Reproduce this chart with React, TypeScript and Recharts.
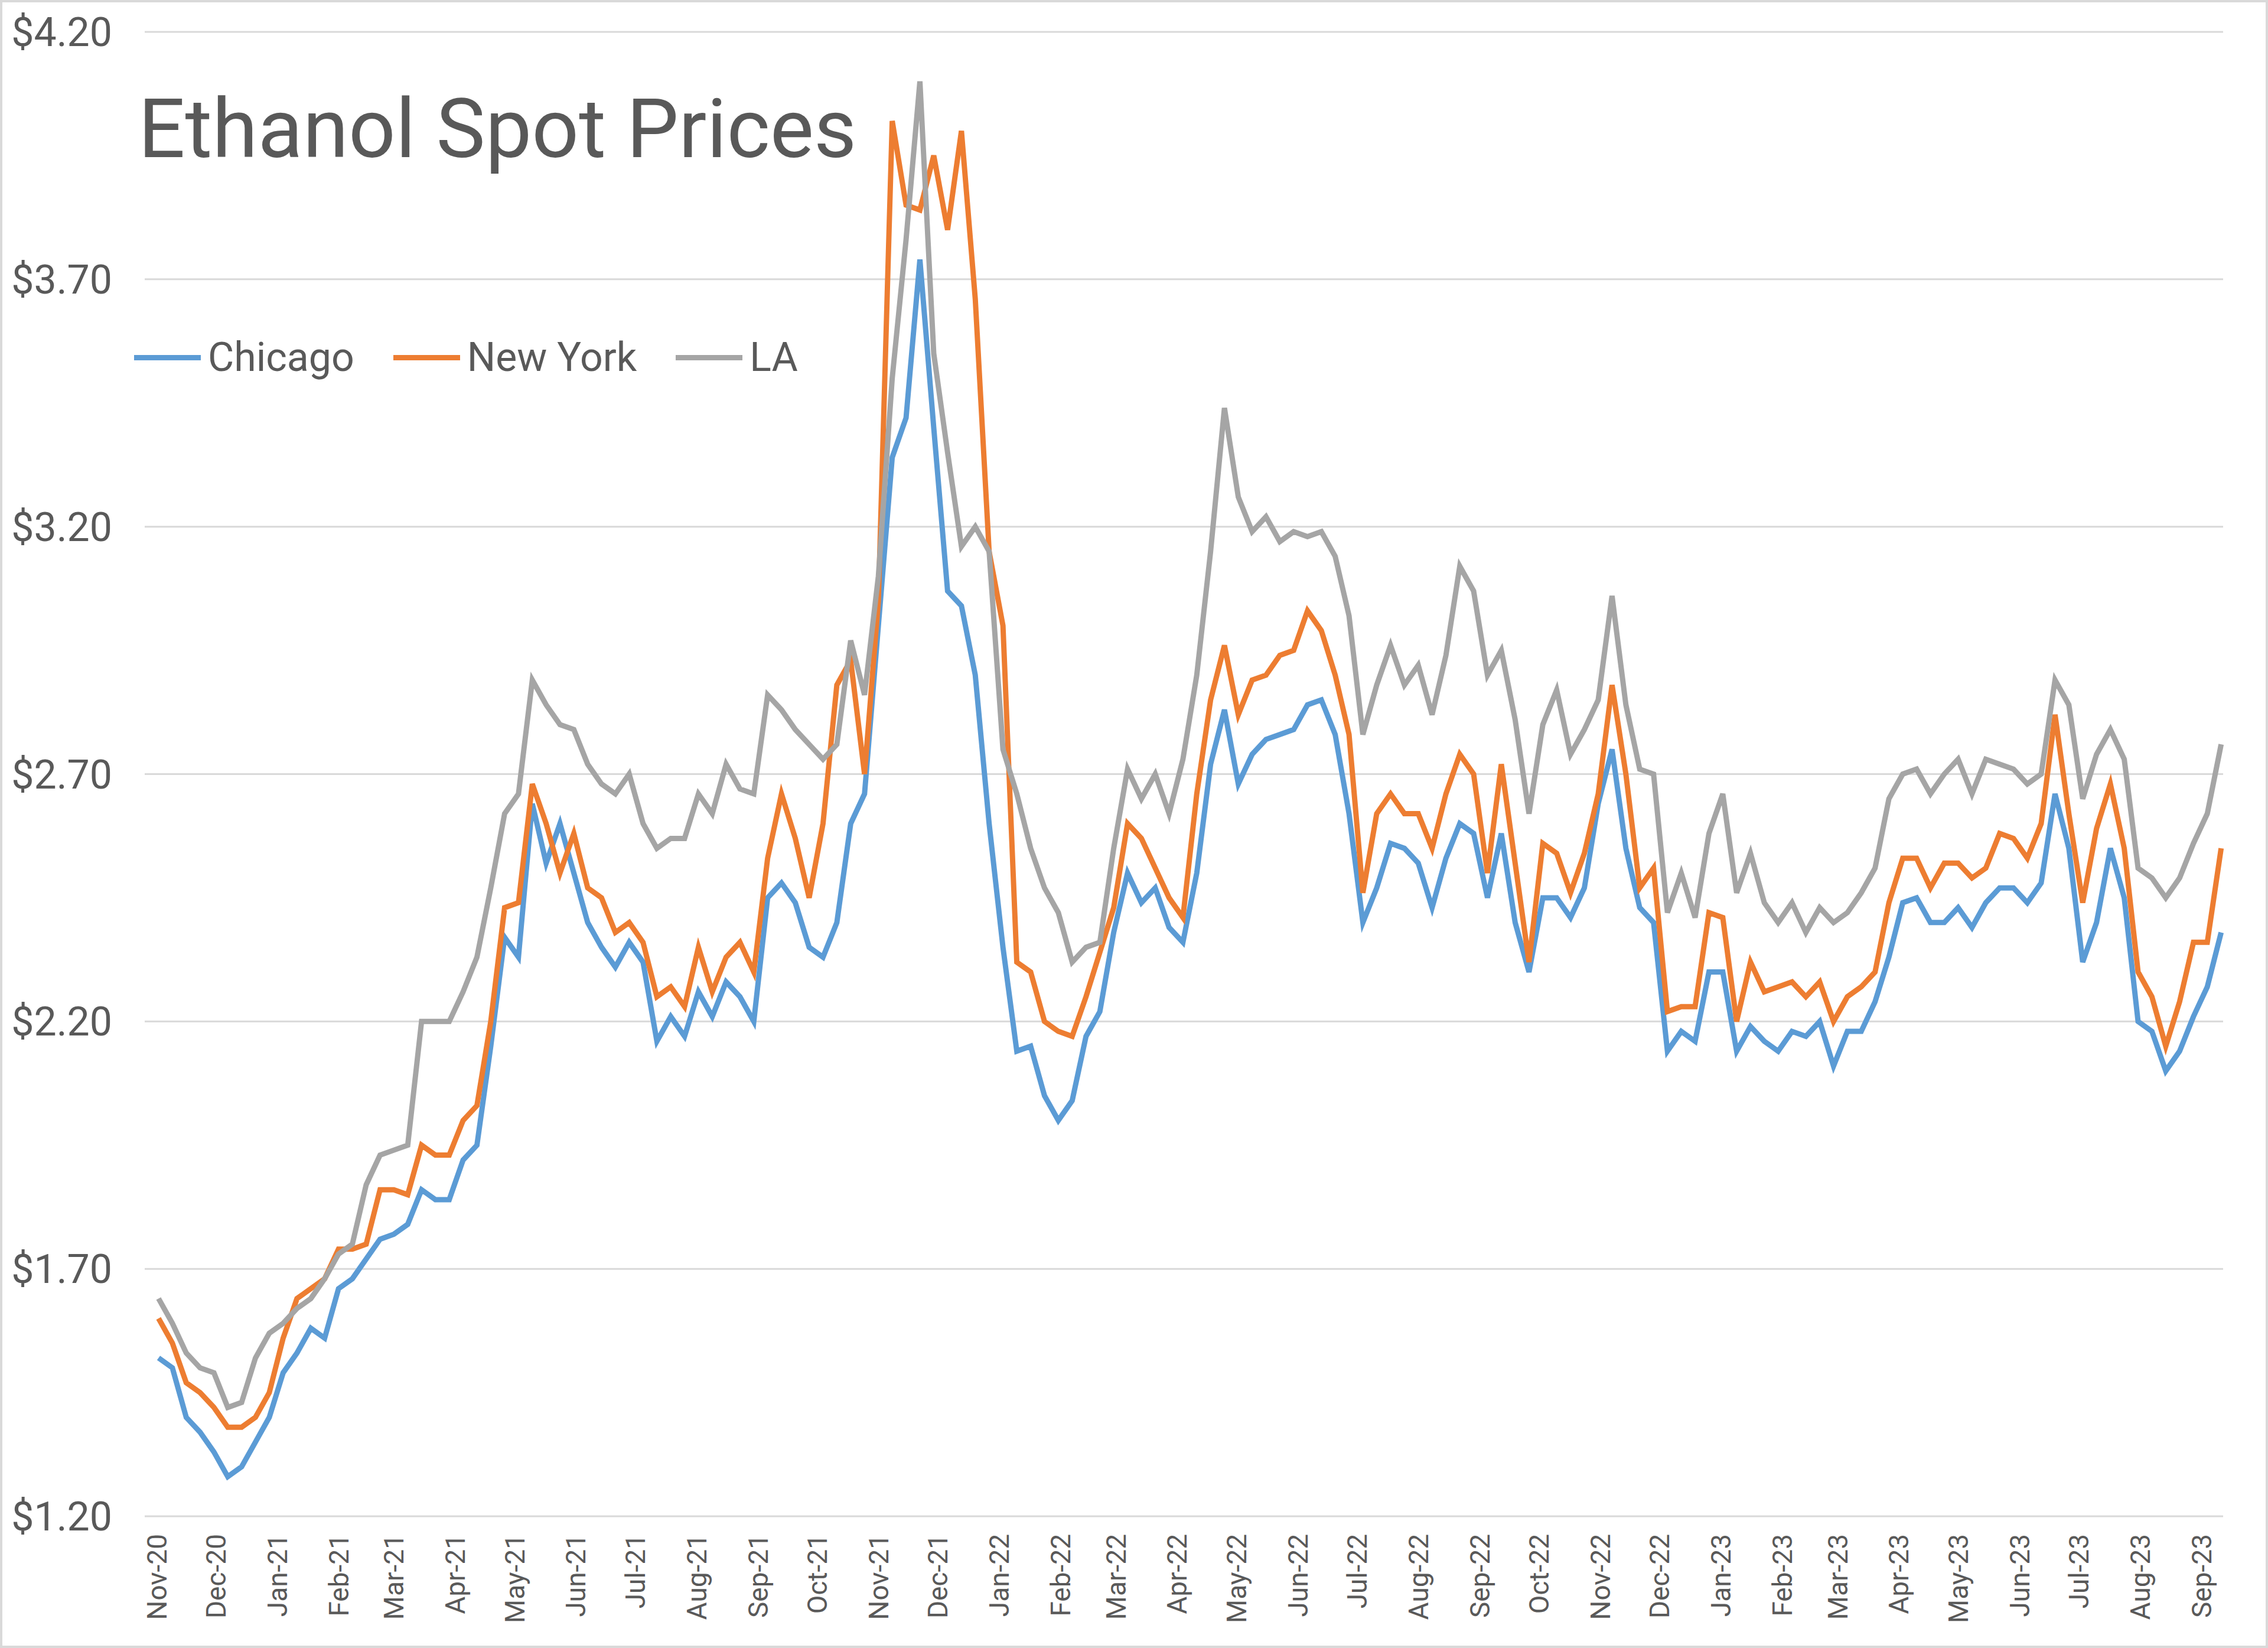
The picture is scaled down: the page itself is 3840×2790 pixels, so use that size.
import { LineChart, Line, XAxis, YAxis, CartesianGrid, Legend } from 'recharts';

const W = 3840;
const H = 2790;

// weekly spot prices, $/gal, first week 2 Nov 2020
const chicago = [
	1.52, 1.50, 1.40, 1.37, 1.33, 1.28, 1.30, 1.35, 1.40, 1.49,
	1.53, 1.58, 1.56, 1.66, 1.68, 1.72, 1.76, 1.77, 1.79, 1.86,
	1.84, 1.84, 1.92, 1.95, 2.15, 2.37, 2.33, 2.64, 2.52, 2.60,
	2.50, 2.40, 2.35, 2.31, 2.36, 2.32, 2.16, 2.21, 2.17, 2.26,
	2.21, 2.28, 2.25, 2.20, 2.45, 2.48, 2.44, 2.35, 2.33, 2.40,
	2.60, 2.66, 3.00, 3.34, 3.42, 3.74, 3.40, 3.07, 3.04, 2.90,
	2.60, 2.35, 2.14, 2.15, 2.05, 2.00, 2.04, 2.17, 2.22, 2.38,
	2.50, 2.44, 2.47, 2.39, 2.36, 2.50, 2.72, 2.83, 2.68, 2.74,
	2.77, 2.78, 2.79, 2.84, 2.85, 2.78, 2.62, 2.40, 2.47, 2.56,
	2.55, 2.52, 2.43, 2.53, 2.60, 2.58, 2.45, 2.58, 2.40, 2.30,
	2.45, 2.45, 2.41, 2.47, 2.64, 2.75, 2.55, 2.43, 2.40, 2.14,
	2.18, 2.16, 2.30, 2.30, 2.14, 2.19, 2.16, 2.14, 2.18, 2.17,
	2.20, 2.11, 2.18, 2.18, 2.24, 2.33, 2.44, 2.45, 2.40, 2.40,
	2.43, 2.39, 2.44, 2.47, 2.47, 2.44, 2.48, 2.66, 2.55, 2.32,
	2.40, 2.55, 2.45, 2.20, 2.18, 2.10, 2.14, 2.21, 2.27, 2.38,
];

const newYork = [
	1.60, 1.55, 1.47, 1.45, 1.42, 1.38, 1.38, 1.40, 1.45, 1.56,
	1.64, 1.66, 1.68, 1.74, 1.74, 1.75, 1.86, 1.86, 1.85, 1.95,
	1.93, 1.93, 2.00, 2.03, 2.20, 2.43, 2.44, 2.68, 2.60, 2.50,
	2.58, 2.47, 2.45, 2.38, 2.40, 2.36, 2.25, 2.27, 2.23, 2.35,
	2.26, 2.33, 2.36, 2.30, 2.53, 2.66, 2.57, 2.45, 2.60, 2.88,
	2.93, 2.70, 3.05, 4.02, 3.85, 3.84, 3.95, 3.80, 4.00, 3.66,
	3.15, 3.00, 2.32, 2.30, 2.20, 2.18, 2.17, 2.25, 2.34, 2.43,
	2.60, 2.57, 2.51, 2.45, 2.41, 2.66, 2.85, 2.96, 2.82, 2.89,
	2.90, 2.94, 2.95, 3.03, 2.99, 2.90, 2.78, 2.46, 2.62, 2.66,
	2.62, 2.62, 2.55, 2.66, 2.74, 2.70, 2.50, 2.72, 2.52, 2.32,
	2.56, 2.54, 2.46, 2.54, 2.66, 2.88, 2.70, 2.47, 2.51, 2.22,
	2.23, 2.23, 2.42, 2.41, 2.20, 2.32, 2.26, 2.27, 2.28, 2.25,
	2.28, 2.20, 2.25, 2.27, 2.30, 2.44, 2.53, 2.53, 2.47, 2.52,
	2.52, 2.49, 2.51, 2.58, 2.57, 2.53, 2.60, 2.82, 2.62, 2.44,
	2.59, 2.68, 2.55, 2.30, 2.25, 2.15, 2.24, 2.36, 2.36, 2.55,
];

const la = [
	1.64, 1.59, 1.53, 1.50, 1.49, 1.42, 1.43, 1.52, 1.57, 1.59,
	1.62, 1.64, 1.68, 1.73, 1.75, 1.87, 1.93, 1.94, 1.95, 2.20,
	2.20, 2.20, 2.26, 2.33, 2.47, 2.62, 2.66, 2.89, 2.84, 2.80,
	2.79, 2.72, 2.68, 2.66, 2.70, 2.60, 2.55, 2.57, 2.57, 2.66,
	2.62, 2.72, 2.67, 2.66, 2.86, 2.83, 2.79, 2.76, 2.73, 2.76,
	2.97, 2.86, 3.10, 3.50, 3.78, 4.10, 3.55, 3.35, 3.16, 3.20,
	3.15, 2.75, 2.66, 2.55, 2.47, 2.42, 2.32, 2.35, 2.36, 2.55,
	2.71, 2.65, 2.70, 2.62, 2.73, 2.90, 3.15, 3.44, 3.26, 3.19,
	3.22, 3.17, 3.19, 3.18, 3.19, 3.14, 3.02, 2.78, 2.88, 2.96,
	2.88, 2.92, 2.82, 2.94, 3.12, 3.07, 2.90, 2.95, 2.81, 2.62,
	2.80, 2.87, 2.74, 2.79, 2.85, 3.06, 2.84, 2.71, 2.70, 2.42,
	2.50, 2.41, 2.58, 2.66, 2.46, 2.54, 2.44, 2.40, 2.44, 2.38,
	2.43, 2.40, 2.42, 2.46, 2.51, 2.65, 2.70, 2.71, 2.66, 2.70,
	2.73, 2.66, 2.73, 2.72, 2.71, 2.68, 2.70, 2.89, 2.84, 2.65,
	2.74, 2.79, 2.73, 2.51, 2.49, 2.45, 2.49, 2.56, 2.62, 2.76,
];

const seriesNames = ['Chicago', 'New York', 'LA'];

const monthLabels = [
	'Nov-20', 'Dec-20', 'Jan-21', 'Feb-21', 'Mar-21', 'Apr-21', 'May-21', 'Jun-21', 'Jul-21',
	'Aug-21', 'Sep-21', 'Oct-21', 'Nov-21', 'Dec-21', 'Jan-22', 'Feb-22', 'Mar-22', 'Apr-22',
	'May-22', 'Jun-22', 'Jul-22', 'Aug-22', 'Sep-22', 'Oct-22', 'Nov-22', 'Dec-22', 'Jan-23',
	'Feb-23', 'Mar-23', 'Apr-23', 'May-23', 'Jun-23', 'Jul-23', 'Aug-23', 'Sep-23',
];

const priceTicks = [1.2, 1.7, 2.2, 2.7, 3.2, 3.7, 4.2];

const DAY = 86400000;
const origin = Date.UTC(2020, 10, 1);
const firstWeek = Date.UTC(2020, 10, 2);

// x is days since 1 Nov 2020
const data = chicago.map((v, i) => ({
	day: (firstWeek - origin) / DAY + i * 7,
	chicago: v,
	newYork: newYork[i],
	la: la[i],
}));

const monthTicks = monthLabels.map((_, i) => (Date.UTC(2020, 10 + i, 1) - origin) / DAY);

const TEXT = '#595959';
const FONT = 'Roboto, "Open Sans", sans-serif';

function MonthTick({ x, y, payload }: any) {
	const idx = monthTicks.indexOf(payload.value);
	return (
		<g transform={`translate(${x},${y})`}>
			<text transform="rotate(-90)" textAnchor="end" dy="0.36em" fill={TEXT} fontSize={46} fontFamily={FONT}>
				{monthLabels[idx]}
			</text>
		</g>
	);
}

function LegendContent({ payload }: any) {
	const items = [...(payload || [])].sort((a: any, b: any) => seriesNames.indexOf(a.value) - seriesNames.indexOf(b.value));
	return (
		<div style={{ display: 'flex', alignItems: 'center', fontFamily: FONT, fontSize: 68, color: TEXT, lineHeight: '80px' }}>
			{items.map((entry: any) => (
				<div key={entry.value} style={{ display: 'flex', alignItems: 'center', marginRight: 66 }}>
					<span style={{ display: 'inline-block', width: 113, height: 9, background: entry.color, marginRight: 12 }} />
					<span>{entry.value}</span>
				</div>
			))}
		</div>
	);
}

export default function App() {
	return (
		<div style={{ position: 'absolute', left: 0, top: 0, width: W, height: H, background: '#fff' }}>
			<LineChart width={W} height={H} data={data} margin={{ top: 54, right: 76, left: 0, bottom: 0 }}>
				<CartesianGrid vertical={false} stroke="#d9d9d9" strokeWidth={3} />
				<XAxis
					dataKey="day"
					type="number"
					domain={[-6, 1045]}
					ticks={monthTicks}
					interval={0}
					height={223}
					axisLine={false}
					tickLine={false}
					tickSize={6}
					tickMargin={24}
					tick={<MonthTick />}
				/>
				<YAxis
					type="number"
					domain={[1.2, 4.2]}
					ticks={priceTicks}
					width={245}
					axisLine={false}
					tickLine={false}
					tickSize={6}
					tickMargin={49}
					tickFormatter={(v: number) => `$${v.toFixed(2)}`}
					tick={{ fill: TEXT, fontSize: 68, fontFamily: FONT }}
				/>
				<Legend
					layout="horizontal"
					verticalAlign="middle"
					align="center"
					wrapperStyle={{ left: 227, top: 565, width: 'auto' }}
					content={<LegendContent />}
				/>
				<Line type="linear" dataKey="chicago" name="Chicago" stroke="#5B9BD5" strokeWidth={9} dot={false} isAnimationActive={false} />
				<Line type="linear" dataKey="newYork" name="New York" stroke="#ED7D31" strokeWidth={9} dot={false} isAnimationActive={false} />
				<Line type="linear" dataKey="la" name="LA" stroke="#A5A5A5" strokeWidth={9} dot={false} isAnimationActive={false} />
			</LineChart>
			<svg width={W} height={H} style={{ position: 'absolute', left: 0, top: 0, pointerEvents: 'none' }}>
				<text x={234} y={266} fontSize={140} fill={TEXT} fontFamily={FONT}>
					Ethanol Spot Prices
				</text>
				<rect x={2} y={2} width={W - 4} height={H - 4} fill="none" stroke="#d9d9d9" strokeWidth={4} />
			</svg>
		</div>
	);
}
